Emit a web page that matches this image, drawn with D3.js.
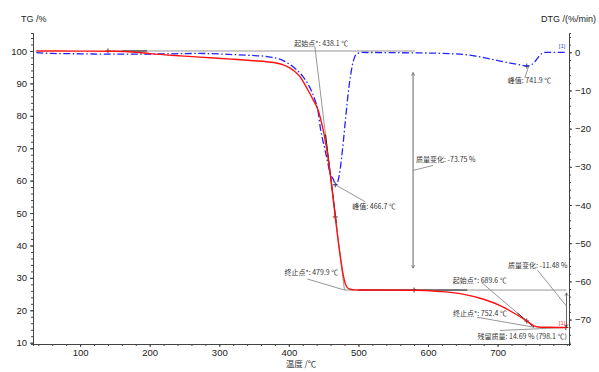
<!DOCTYPE html>
<html>
<head>
<meta charset="utf-8">
<script src="https://cdn.jsdelivr.net/npm/d3@7"></script>
<style>
    body { margin: 0; background: #fff; }
    svg text { font-family: "Liberation Sans", Arial, sans-serif; }
    .note { font-family: "Noto Sans CJK SC", sans-serif; font-size: 7px; fill: #333; }
</style>
</head>
<body>
<div id="chart"></div>
<script>
// TG curve (temperature in °C, mass in %)
const tgTemp = [37, 100, 150, 180, 200, 244, 272, 316, 350, 368, 392, 406, 416, 426, 435, 442, 446, 450, 454, 458, 462, 466.7, 471, 475, 478, 481, 484, 488, 495, 520, 580, 617, 650, 680, 703, 727, 741.9, 752, 758, 770, 799];
const tgMass = [100.0, 99.95, 99.9, 99.6, 99.2, 98.5, 98.1, 97.5, 97.0, 96.7, 95.7, 94.1, 92.1, 88.5, 84.9, 81.8, 78.7, 75.0, 70.2, 64.5, 57.5, 48.8, 41.2, 35.0, 31.0, 28.3, 27.0, 26.5, 26.3, 26.25, 26.2, 25.8, 25.0, 23.4, 21.5, 18.7, 16.7, 15.2, 14.85, 14.75, 14.69];

// DTG curve (temperature in °C, rate in %/min)
const dtgTemp = [37, 60, 100, 150, 200, 250, 272, 320, 344, 368, 392, 406, 420, 430, 437, 442, 445, 452, 457, 459.5, 462, 464.5, 466.7, 469, 471, 473.5, 476, 478.5, 481, 483.5, 486, 488.5, 491, 493.5, 496, 500, 505, 550, 600, 630, 658, 680, 696, 720, 735, 741.9, 748, 753, 758, 763, 768, 799];
const dtgRate = [-0.1, -0.3, -0.4, -0.5, -0.45, -0.35, -0.3, -0.6, -0.8, -1.1, -2.2, -3.8, -6.3, -9.2, -12.2, -15.5, -19.5, -25.6, -29.9, -32.0, -32.7, -33.5, -34.7, -34.5, -33.4, -31.0, -27.3, -23.0, -18.3, -13.8, -9.6, -6.3, -3.6, -1.8, -0.7, -0.2, -0.05, -0.1, -0.2, -0.35, -0.7, -1.4, -2.0, -2.9, -3.4, -3.6, -3.3, -2.6, -1.4, -0.4, -0.05, 0.0];

// axis ticks
const xTicks = [100, 200, 300, 400, 500, 600, 700];
const tgTicks = [10, 20, 30, 40, 50, 60, 70, 80, 90, 100];
const dtgTicks = [0, -10, -20, -30, -40, -50, -60, -70];

// evaluation results
const stepOnset = [438.1, 689.6];
const stepEndset = [479.9, 752.4];
const stepFrom = [100, 26.25];
const stepTo = [26.25, 14.77];
const stepChange = [-73.75, -11.48];
const arrowTemp = [578.5, 799];
const arrowFrom = [93.3, 25.4];
const arrowTo = [33.0, 14.8];
const peakTemp = [466.7, 741.9];
const peakRate = [-34.7, -3.6];
const residualTemp = 798.1;
const residualMass = 14.69;
const baselineTemp = [143, 581];
const plateauTemp = [479.9, 799];

const margin = { top: 33, right: 30, bottom: 28, left: 33 };
const width = 599 - margin.left - margin.right;
const height = 372 - margin.top - margin.bottom;

const svg = d3.select('#chart').append('svg')
    .attr('width', 599)
    .attr('height', 372);

const g = svg.append('g')
    .attr('transform', 'translate(' + margin.left + ',' + margin.top + ')');

const x = d3.scaleLinear().domain([32.3, 802.6]).range([0, width]);
const yTG = d3.scaleLinear().domain([9.6, 105.55]).range([height, 0]);
const yDTG = d3.scaleLinear().domain([-76.4, 5.05]).range([height, 0]);

const axisColor = '#444';
const styleAxis = function (sel) {
    sel.select('.domain').attr('stroke', axisColor);
    sel.selectAll('.tick line').attr('stroke', axisColor);
    sel.selectAll('.tick text').attr('fill', '#222').style('font-size', '9.5px');
};

// minor ticks first
g.append('g')
    .attr('transform', 'translate(0,' + height + ')')
    .call(d3.axisBottom(x).tickValues(d3.range(40, 801, 20)).tickSize(2).tickFormat(''))
    .call(styleAxis);
g.append('g')
    .call(d3.axisLeft(yTG).tickValues(d3.range(10, 105, 2)).tickSize(2).tickFormat(''))
    .call(styleAxis);
g.append('g')
    .attr('transform', 'translate(' + width + ',0)')
    .call(d3.axisRight(yDTG).tickValues(d3.range(-76, 5, 2)).tickSize(2).tickFormat(''))
    .call(styleAxis);

// major ticks
g.append('g')
    .attr('transform', 'translate(0,' + height + ')')
    .call(d3.axisBottom(x).tickValues(xTicks).tickSize(3).tickSizeOuter(0).tickPadding(2))
    .call(styleAxis);
g.append('g')
    .call(d3.axisLeft(yTG).tickValues(tgTicks).tickSize(3).tickSizeOuter(0).tickPadding(3))
    .call(styleAxis);
g.append('g')
    .attr('transform', 'translate(' + width + ',0)')
    .call(d3.axisRight(yDTG).tickValues(dtgTicks).tickSize(3).tickSizeOuter(0).tickPadding(3))
    .call(styleAxis);

// axis titles
svg.append('text').attr('x', 21).attr('y', 21.5).style('font-size', '9px').attr('fill', '#222').text('TG /%');
svg.append('text').attr('x', 596).attr('y', 21.5).attr('text-anchor', 'end').style('font-size', '9px').attr('fill', '#222').text('DTG /(%/min)');
svg.append('text').attr('x', 301).attr('y', 366.5).attr('text-anchor', 'middle')
    .style('font-size', '8.5px').style('font-family', '"Noto Sans CJK SC", sans-serif').attr('fill', '#333').text('温度 /℃');

// arrow marker
const defs = svg.append('defs');
['up', 'down'].forEach(function (dir) {
    defs.append('marker')
        .attr('id', 'arrow-' + dir)
        .attr('viewBox', '0 0 8 8')
        .attr('markerWidth', 5).attr('markerHeight', 5)
        .attr('refX', 4).attr('refY', dir === 'up' ? 0.5 : 7.5)
        .attr('orient', '0')
        .append('path')
        .attr('d', dir === 'up' ? 'M1,6 L4,0 L7,6' : 'M1,2 L4,8 L7,2')
        .attr('fill', 'none')
        .attr('stroke', '#555')
        .attr('stroke-width', 1);
});

const gray = '#8a8a8a';
const ann = g.append('g');
const line = function (x1, y1, x2, y2, color, w) {
    ann.append('line')
        .attr('x1', x1).attr('y1', y1).attr('x2', x2).attr('y2', y2)
        .attr('stroke', color || gray)
        .attr('stroke-width', w || 0.9);
};
const note = function (px, py, text, anchor) {
    ann.append('text')
        .attr('class', 'note')
        .attr('x', px).attr('y', py)
        .attr('text-anchor', anchor || 'start')
        .text(text);
};
const cross = function (px, py) {
    ann.append('path')
        .attr('d', 'M' + (px - 2.5) + ',' + py + 'H' + (px + 2.5) + 'M' + px + ',' + (py - 2.5) + 'V' + (py + 2.5))
        .attr('stroke', '#111')
        .attr('stroke-width', 0.8);
};

// baselines
line(x(baselineTemp[0]), yTG(stepFrom[0]), x(baselineTemp[1]), yTG(stepFrom[0]));
line(x(plateauTemp[0]), yTG(stepFrom[1]), x(plateauTemp[1]), yTG(stepFrom[1]));
line(x(161), yTG(stepFrom[0]), x(196), yTG(stepFrom[0]), '#222', 1);
line(x(500), yTG(stepFrom[1]), x(656), yTG(stepFrom[1]), '#222', 1);
cross(x(140), yTG(stepFrom[0]));
cross(x(580), yTG(stepFrom[1]));

// tangents and onset / endset labels
stepOnset.forEach(function (onset, i) {
    const x0 = x(onset), y0 = yTG(stepFrom[i]);
    const x1 = x(stepEndset[i]), y1 = yTG(stepTo[i]);
    const slope = (y1 - y0) / (x1 - x0);
    const ext = i === 0 ? 4 : 7;
    line(x0 - ext / slope, y0 - ext, x1, y1);
    const dark = i === 0 ? [0.35, 0.72] : [0.62, 1];
    line(x0 + (x1 - x0) * dark[0], y0 + (y1 - y0) * dark[0], x0 + (x1 - x0) * dark[1], y0 + (y1 - y0) * dark[1], '#222', 1);
    if (i === 0) {
        note(x0 - 21, y0 - 4.5, '起始点*: ' + onset + ' ℃');
        line(x1 - 37, y1 - 11, x1, y1);
        note(x1 - 60, y1 - 15, '终止点*: ' + stepEndset[i] + ' ℃');
    } else {
        note(x0 - 37.5, y0 - 7.5, '起始点*: ' + onset + ' ℃');
        line(x1 - 57, y1 - 10, x1, y1);
        note(x1 - 81, y1 - 11, '终止点*: ' + stepEndset[i] + ' ℃');
    }
});
cross(x(peakTemp[0]), yTG(48.8));
cross(x(peakTemp[1]), yTG(16.7));

// mass change arrows
stepChange.forEach(function (change, i) {
    const ax = x(arrowTemp[i]);
    const ya = yTG(arrowFrom[i]), yb = yTG(arrowTo[i]);
    ann.append('line')
        .attr('x1', ax).attr('y1', ya).attr('x2', ax).attr('y2', yb)
        .attr('stroke', '#555').attr('stroke-width', 0.9)
        .attr('marker-start', 'url(#arrow-up)')
        .attr('marker-end', 'url(#arrow-down)');
    const label = '质量变化: ' + change.toFixed(2) + ' %';
    if (i === 0) {
        const ym = (ya + yb) / 2;
        line(ax, ym, ax + 20, ym - 5);
        note(ax + 3, ym - 8, label);
    } else {
        line(ax, yb - 21, ax - 29, yb - 57);
        note(ax + 1, yb - 59.5, label, 'end');
    }
});

// residual mass
const rx = x(residualTemp), ry = yTG(residualMass);
line(rx - 66, ry + 3, rx, ry);
cross(rx, ry);
note(rx + 1, ry + 11, '残留质量: ' + residualMass + ' % (' + residualTemp + ' ℃)', 'end');

// DTG peaks
peakTemp.forEach(function (t, i) {
    const px = x(t), py = yDTG(peakRate[i]);
    cross(px, py);
    if (i === 0) {
        line(px, py, px + 30, py + 17);
        note(px + 17, py + 24, '峰值: ' + t + ' ℃');
    } else {
        line(px + 2, py, px - 2, py + 12);
        note(px - 19, py + 16.5, '峰值: ' + t + ' ℃');
    }
});

// curves
const tgLine = d3.line()
    .x(function (d, i) { return x(tgTemp[i]); })
    .y(function (d) { return yTG(d); })
    .curve(d3.curveMonotoneX);
const dtgLine = d3.line()
    .x(function (d, i) { return x(dtgTemp[i]); })
    .y(function (d) { return yDTG(d); })
    .curve(d3.curveMonotoneX);

g.append('path')
    .datum(dtgRate)
    .attr('d', dtgLine)
    .attr('fill', 'none')
    .attr('stroke', '#2222ff')
    .attr('stroke-width', 1.3)
    .attr('stroke-dasharray', '7,2.5,1.5,2.5');

g.append('path')
    .datum(tgMass)
    .attr('d', tgLine)
    .attr('fill', 'none')
    .attr('stroke', '#ff1010')
    .attr('stroke-width', 1.4);

// curve ids
const lastT = tgTemp[tgTemp.length - 1];
g.append('text').attr('x', x(lastT) - 1).attr('y', yDTG(dtgRate[dtgRate.length - 1]) - 4)
    .attr('text-anchor', 'end').style('font-size', '6px').attr('fill', '#4444ff').text('[1]');
g.append('text').attr('x', x(lastT) - 1).attr('y', yTG(tgMass[tgMass.length - 1]) - 3)
    .attr('text-anchor', 'end').style('font-size', '6px').attr('fill', '#ff4444').text('[1]');
</script>
</body>
</html>
